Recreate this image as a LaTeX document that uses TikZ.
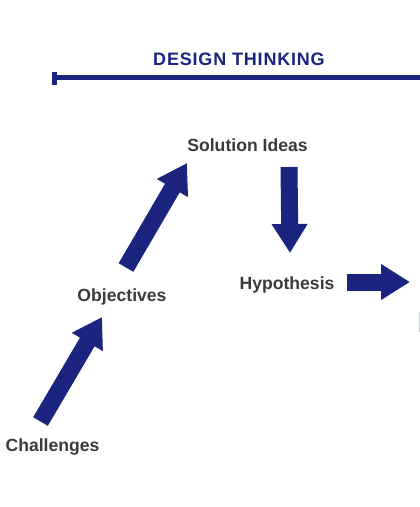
\documentclass[tikz,border=0pt]{standalone}
\usepackage{fontspec}
\setmainfont{Liberation Sans}
\usetikzlibrary{arrows.meta}
\definecolor{navy}{RGB}{27,36,126}
\definecolor{labelgray}{RGB}{58,58,58}
\tikzset{
  stage/.style={anchor=base, inner sep=0pt, text=labelgray,
    font=\fontsize{17.6}{20}\selectfont\bfseries},
  fatarrow/.style={navy, line width=17pt,
    -{Triangle[length=29pt,width=34pt]}},
}
\begin{document}
\begin{tikzpicture}[x=1pt, y=-1pt]
    \useasboundingbox (0, 0) rectangle (420, 507) ;
    % title and bar
    \node[anchor=base, inner sep=0pt, text=navy,
      font=\fontsize{18}{21}\selectfont\bfseries\addfontfeatures{LetterSpace=4.5}]
      (title) at (239, 65.5) {DESIGN THINKING} ;
    \draw[navy, line width=5pt] (54.5, 77.5) -- (420, 77.5) ;
    \draw[navy, line width=5pt] (54.5, 72) -- (54.5, 85) ;
    % stages
    \node[stage] (chal) at (52.5, 451) {Challenges} ;
    \node[stage] (obj) at (122, 301) {Objectives} ;
    \node[stage] (sol) at (247.5, 151) {Solution Ideas} ;
    \node[stage] (hyp) at (287, 289) {Hypothesis} ;
    % arrow ends
    \coordinate (chal-out) at (40.5, 421.5) ;
    \coordinate (obj-in) at (102, 317) ;
    \coordinate (obj-out) at (126, 267.5) ;
    \coordinate (sol-in) at (187, 163) ;
    \coordinate (sol-out) at (289, 167) ;
    \coordinate (hyp-in) at (290, 253) ;
    \coordinate (hyp-out) at (347, 282) ;
    \coordinate (next-in) at (410, 282) ;
    \draw[fatarrow] (chal-out) -- (obj-in) ;
    \draw[fatarrow] (obj-out) -- (sol-in) ;
    \draw[fatarrow] (sol-out) -- (hyp-in) ;
    \draw[fatarrow] (hyp-out) -- (next-in) ;
    % edge of next stage
    \draw[navy!25, line width=1pt] (419.3, 312) -- (419.3, 332) ;
  \end{tikzpicture}
\end{document}
